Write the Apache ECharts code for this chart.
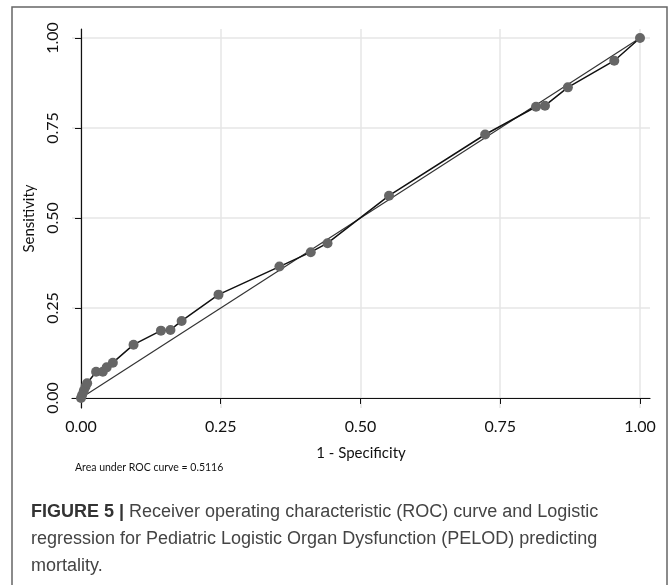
<!DOCTYPE html>
<html>
<head>
<meta charset="utf-8">
<script src="https://cdn.jsdelivr.net/npm/echarts@6/dist/echarts.min.js"></script>
<style>
  html, body { margin: 0; padding: 0; background: #fff; }
  #chart { width: 672px; height: 585px; }
</style>
</head>
<body>
<div id="chart"></div>
<script>
// ROC points: 1 - specificity vs sensitivity
const fpr = [0, 0.002, 0.005, 0.008, 0.011, 0.027, 0.039, 0.046, 0.057, 0.094,
  0.143, 0.160, 0.180, 0.246, 0.355, 0.411, 0.441, 0.551, 0.723, 0.814,
  0.830, 0.871, 0.954, 1];
const tpr = [0, 0.008, 0.02, 0.031, 0.041, 0.073, 0.073, 0.085, 0.098, 0.148,
  0.187, 0.189, 0.214, 0.287, 0.365, 0.405, 0.430, 0.562, 0.732, 0.809,
  0.812, 0.863, 0.937, 1];
// reference (chance) line
const refX = [0, 1];
const refY = [0, 1];
const tickValues = [0, 0.25, 0.5, 0.75, 1];
const tickLabels = ["0.00", "0.25", "0.50", "0.75", "1.00"];

const FONT = "Lato";
const chart = echarts.init(document.getElementById("chart"));

const fmt = (v) => tickLabels[tickValues.indexOf(Math.round(v * 100) / 100)] || "";

const options = {
  animation: false,
  grid: { left: 72, top: 29, width: 578, height: 379 },
  xAxis: {
    type: "value",
    min: -0.0161,
    max: 1.0179,
    name: "1 - Specificity",
    nameLocation: "middle",
    nameGap: 38,
    nameTextStyle: { fontFamily: FONT, fontSize: 15, color: "#111" },
    axisLine: { show: true, lineStyle: { color: "#111", width: 1.2 } },
    axisTick: { show: true, length: 6, customValues: tickValues, lineStyle: { color: "#111" } },
    axisLabel: { customValues: tickValues, formatter: fmt, margin: 11, fontFamily: FONT, fontSize: 16, color: "#111" },
    splitLine: { show: false },
  },
  yAxis: {
    type: "value",
    min: -0.0279,
    max: 1.0251,
    name: "Sensitivity",
    nameLocation: "middle",
    nameGap: 34,
    nameTextStyle: { fontFamily: FONT, fontSize: 15, color: "#111" },
    axisLine: { show: true, lineStyle: { color: "#111", width: 1.2 } },
    axisTick: { show: true, length: 6, customValues: tickValues, lineStyle: { color: "#111" } },
    axisLabel: { customValues: tickValues, formatter: fmt, rotate: 90, margin: 11, fontFamily: FONT, fontSize: 16, color: "#111" },
    splitLine: { show: false },
  },
  series: [
    {
      // grid lines, kept under the data
      type: "line",
      data: [],
      silent: true,
      z: 0,
      markLine: {
        z: 0,
        silent: true,
        symbol: "none",
        label: { show: false },
        lineStyle: { color: "#e6e6e6", width: 1.5, type: "solid" },
        data: tickValues.map((v) => ({ xAxis: v })).concat(tickValues.map((v) => ({ yAxis: v }))),
      },
    },
    {
      name: "Reference",
      type: "line",
      z: 3,
      data: refX.map((x, i) => [x, refY[i]]),
      symbol: "none",
      lineStyle: { color: "#333", width: 1.2 },
    },
    {
      name: "ROC",
      type: "line",
      z: 4,
      data: fpr.map((x, i) => [x, tpr[i]]),
      symbol: "circle",
      symbolSize: 10,
      showAllSymbol: true,
      itemStyle: { color: "#666" },
      lineStyle: { color: "#111", width: 1.5 },
    },
  ],
  graphic: [
    {
      type: "rect",
      shape: { x: 12, y: 7, width: 655, height: 600 },
      style: { fill: "none", stroke: "#666", lineWidth: 1.5 },
      silent: true,
    },
    {
      type: "text",
      left: 75,
      top: 462,
      style: { text: "Area under ROC curve = 0.5116", font: "10.5px " + FONT, fill: "#111" },
    },
    {
      type: "text",
      left: 31,
      top: 499,
      style: {
        text: "{b|FIGURE 5 |} Receiver operating characteristic (ROC) curve and Logistic\nregression for Pediatric Logistic Organ Dysfunction (PELOD) predicting\nmortality.",
        font: "18px 'Liberation Sans'",
        fill: "#444",
        lineHeight: 27,
        rich: {
          b: { font: "bold 18px 'Liberation Sans'", fill: "#333", lineHeight: 27 },
        },
      },
    },
  ],
};

chart.setOption(options);
</script>
</body>
</html>
